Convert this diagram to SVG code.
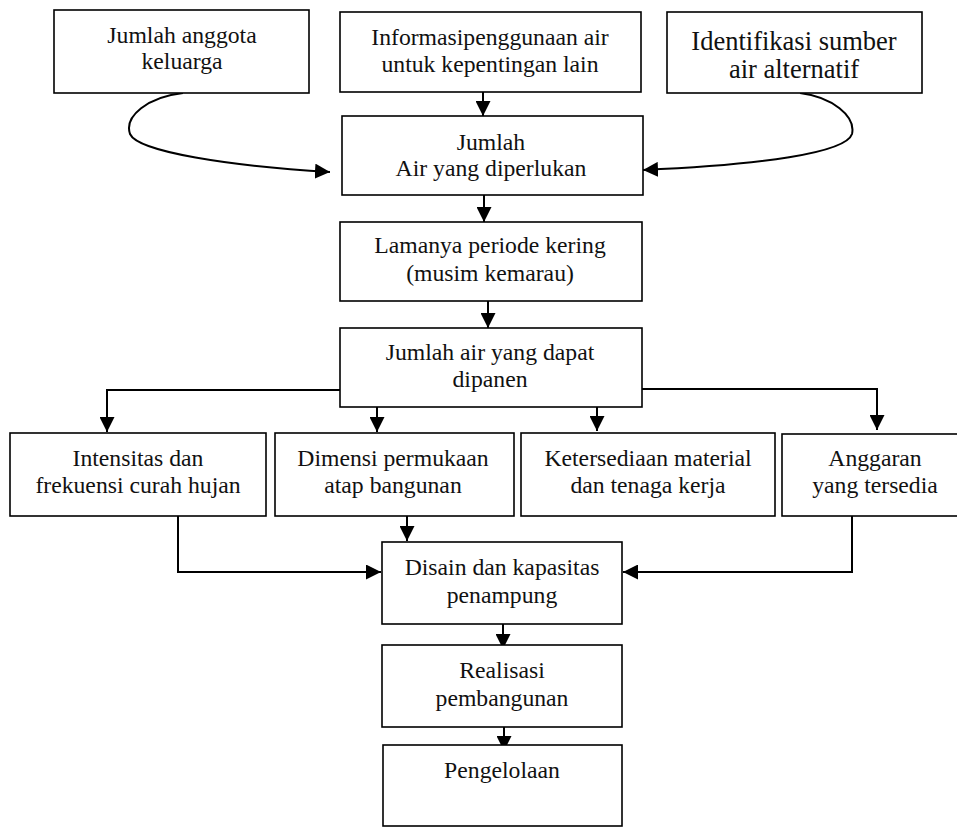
<svg xmlns="http://www.w3.org/2000/svg" width="957" height="827" viewBox="0 0 957 827">
<style>
.box{fill:#fff;stroke:#000;stroke-width:1.6}
.t{font-family:"Liberation Serif","Times New Roman",serif;font-size:23.7px;fill:#111;text-anchor:middle}
.big{font-size:26.5px}
.c{fill:none;stroke:#000;stroke-width:2}
</style>
<defs>
<marker id="ah" viewBox="0 0 15 15" refX="15" refY="7.5" markerWidth="15" markerHeight="15" markerUnits="userSpaceOnUse" orient="auto">
<path d="M0,0 L15,7.5 L0,15 z" fill="#000"/>
</marker>
</defs>
<g id="connectors">
<path class="c" d="M183,93 C148,97 124,116 130,134 C138,152 230,166 330,172" marker-end="url(#ah)"/>
<path class="c" d="M800,93 C832,97 856,116 852,134 C846,153 760,165 643,170" marker-end="url(#ah)"/>
<path class="c" d="M483,92 L483,116" marker-end="url(#ah)"/>
<path class="c" d="M484,195 L484,222" marker-end="url(#ah)"/>
<path class="c" d="M488,301 L488,328" marker-end="url(#ah)"/>
<path class="c" d="M340,390 L107,390 L107,432" marker-end="url(#ah)"/>
<path class="c" d="M377,407 L377,432" marker-end="url(#ah)"/>
<path class="c" d="M597,407 L597,431" marker-end="url(#ah)"/>
<path class="c" d="M642,389 L877,389 L877,430" marker-end="url(#ah)"/>
<path class="c" d="M178,516 L178,572 L381,572" marker-end="url(#ah)"/>
<path class="c" d="M407,516 L407,541" marker-end="url(#ah)"/>
<path class="c" d="M852,516 L852,572 L623,572" marker-end="url(#ah)"/>
<path class="c" d="M503,624 L503,649" marker-end="url(#ah)"/>
<path class="c" d="M504,727 L504,751" marker-end="url(#ah)"/>
</g>
<g id="n1"><rect class="box" x="54" y="10" width="255" height="83"/><text class="t" x="182" y="43">Jumlah anggota</text><text class="t" x="182" y="69">keluarga</text></g>
<g id="n2"><rect class="box" x="340" y="12" width="301" height="80"/><text class="t" x="490" y="45">Informasipenggunaan air</text><text class="t" x="490" y="72">untuk kepentingan lain</text></g>
<g id="n3"><rect class="box" x="667" y="12" width="255" height="81"/><text class="t big" x="794" y="50">Identifikasi sumber</text><text class="t big" x="794" y="78">air alternatif</text></g>
<g id="n4"><rect class="box" x="342" y="116" width="301" height="79"/><text class="t" x="491" y="150">Jumlah</text><text class="t" x="491" y="176">Air yang diperlukan</text></g>
<g id="n5"><rect class="box" x="340" y="222" width="302" height="79"/><text class="t" x="490" y="253">Lamanya periode kering</text><text class="t" x="490" y="281">(musim kemarau)</text></g>
<g id="n6"><rect class="box" x="340" y="328" width="302" height="79"/><text class="t" x="490" y="360">Jumlah air yang dapat</text><text class="t" x="490" y="387">dipanen</text></g>
<g id="n7"><rect class="box" x="10" y="433" width="256" height="83"/><text class="t" x="138" y="466">Intensitas dan</text><text class="t" x="138" y="493">frekuensi curah hujan</text></g>
<g id="n8"><rect class="box" x="275" y="433" width="239" height="83"/><text class="t" x="393" y="466">Dimensi permukaan</text><text class="t" x="393" y="493">atap bangunan</text></g>
<g id="n9"><rect class="box" x="521" y="433" width="254" height="83"/><text class="t" x="648" y="466">Ketersediaan material</text><text class="t" x="648" y="493">dan tenaga kerja</text></g>
<g id="n10"><rect class="box" x="782" y="434" width="186" height="82"/><text class="t" x="875" y="466">Anggaran</text><text class="t" x="875" y="493">yang tersedia</text></g>
<g id="n11"><rect class="box" x="382" y="542" width="240" height="82"/><text class="t" x="502" y="575">Disain dan kapasitas</text><text class="t" x="502" y="603">penampung</text></g>
<g id="n12"><rect class="box" x="382" y="645" width="240" height="82"/><text class="t" x="502" y="678">Realisasi</text><text class="t" x="502" y="706">pembangunan</text></g>
<g id="n13"><rect class="box" x="383" y="745" width="239" height="81"/><text class="t" x="502" y="778">Pengelolaan</text></g>
</svg>
